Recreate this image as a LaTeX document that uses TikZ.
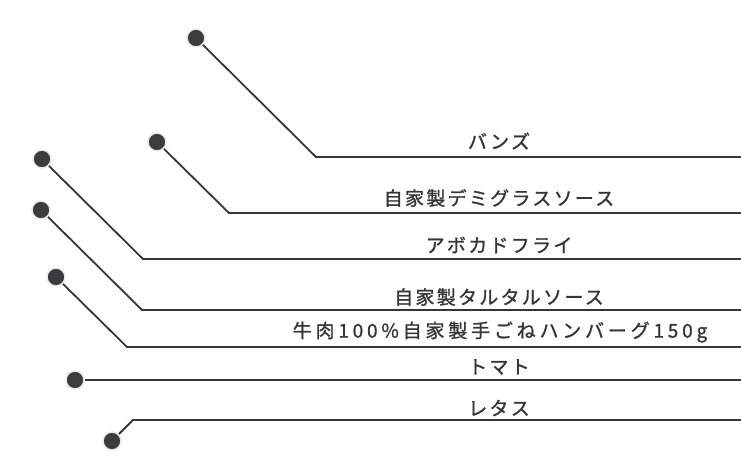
\documentclass[tikz,border=0pt]{standalone}
\usepackage{fontspec}
\newfontfamily\jp[LetterSpace=12,FakeBold=1.2]{Noto Sans CJK JP}
\newfontfamily\jpwide[LetterSpace=20,FakeBold=1.2]{Noto Sans CJK JP}
\definecolor{ink}{HTML}{363638}
\definecolor{dotc}{HTML}{3C3C40}
\definecolor{halo}{HTML}{ECEAE4}
\begin{document}
\begin{tikzpicture}[x=1pt,y=-1pt,
  dotnode/.style={circle,fill=dotc,draw=halo,line width=1.5pt,minimum size=18pt,inner sep=0pt},
  leader/.style={draw=ink,line width=1.8pt,line join=miter},
  lbl/.style={font=\jp\fontsize{19}{19}\selectfont,text=ink,inner sep=0pt,anchor=center},
  lblwide/.style={lbl,font=\jpwide\fontsize{19}{19}\selectfont}]
\useasboundingbox (0,0) rectangle (741,465);
% coordinates
\coordinate (b1) at (316,157); \coordinate (e1) at (741,157);
\coordinate (b2) at (229,213); \coordinate (e2) at (741,213);
\coordinate (b3) at (143,259); \coordinate (e3) at (741,259);
\coordinate (b4) at (142,310); \coordinate (e4) at (741,310);
\coordinate (b5) at (127,347); \coordinate (e5) at (741,347);
\coordinate (e6) at (741,380);
\coordinate (b7) at (133,420); \coordinate (e7) at (741,420);
% dots
\node[dotnode] (d1) at (196,38) {};
\node[dotnode] (d2) at (157,142) {};
\node[dotnode] (d3) at (42,159) {};
\node[dotnode] (d4) at (41,210) {};
\node[dotnode] (d5) at (56,277) {};
\node[dotnode] (d6) at (75,380) {};
\node[dotnode] (d7) at (112,441) {};
% leaders
\draw[leader] (d1) -- (b1) -- (e1);
\draw[leader] (d2) -- (b2) -- (e2);
\draw[leader] (d3) -- (b3) -- (e3);
\draw[leader] (d4) -- (b4) -- (e4);
\draw[leader] (d5) -- (b5) -- (e5);
\draw[leader] (d6) -- (e6);
\draw[leader] (d7) -- (b7) -- (e7);
% labels
\node[lbl] (t1) at (499,141) {バンズ};
\node[lbl] (t2) at (499,198) {自家製デミグラスソース};
\node[lbl] (t3) at (499,245) {アボカドフライ};
\node[lbl] (t4) at (499,297) {自家製タルタルソース};
\node[lblwide] (t5) at (500,332) {牛肉100\%自家製手ごねハンバーグ150g};
\node[lbl] (t6) at (499,367) {トマト};
\node[lbl] (t7) at (499,408) {レタス};
\end{tikzpicture}
\end{document}
